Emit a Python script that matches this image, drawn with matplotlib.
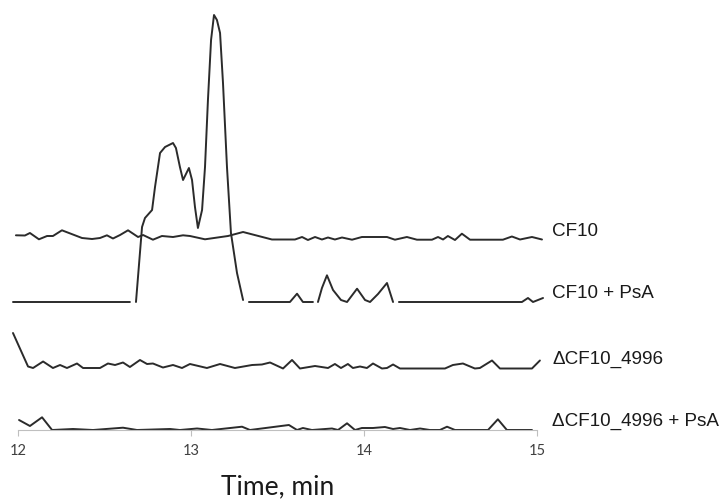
import numpy as np
import matplotlib
matplotlib.use("Agg")
import matplotlib.pyplot as plt

nan = np.nan

# traces: time (min) and signal height above each trace's baseline
cf10_t = [11.988, 12.040, 12.069, 12.121, 12.168, 12.202, 12.254, 12.370, 12.428, 12.474,
          12.514, 12.549, 12.590, 12.636, 12.694, 12.723, 12.780, 12.832, 12.896, 12.954,
          12.994, 13.081, 13.214, 13.301, 13.468, 13.601, 13.642, 13.676, 13.717, 13.757,
          13.792, 13.832, 13.873, 13.931, 13.988, 14.133, 14.179, 14.248, 14.306, 14.393,
          14.428, 14.457, 14.485, 14.526, 14.566, 14.613, 14.803, 14.855, 14.902, 14.971, 15.029]
cf10_y = [4.7, 4.5, 7, 0.7, 4, 4, 9.7, 2, 1, 2,
          4.7, 1.5, 5, 9.7, 3, 5, 0.3, 4, 3, 4.7,
          4, 0.7, 4, 8, 0.5, 0.5, 3, 0, 3, 0.5,
          2.5, 0.5, 2.5, 0.3, 3, 3, 0.3, 3, 0.3, 0.3,
          3, 0.5, 4, 0, 6.3, 0.3, 0.3, 3.5, 0.5, 3, 0.5]

psa_t = [11.971, 12.647, nan, 12.682, 12.717, 12.734, 12.775, 12.792, 12.821, 12.850,
         12.896, 12.913, 12.936, 12.954, 12.988, 13.006, 13.023, 13.040, 13.064, 13.081,
         13.098, 13.116, 13.133, 13.150, 13.168, 13.185, 13.208, 13.231, 13.266, 13.301,
         nan, 13.335, 13.572, 13.613, 13.647, 13.705, nan, 13.734, 13.757, 13.786,
         13.821, 13.867, 13.902, 13.960, 14.006, 14.035, 14.081, 14.133, 14.168, nan,
         14.202, 14.913, 14.948, 14.977, 15.035]
psa_y = [0, 0, nan, 0, 75, 84, 92, 115, 149, 155,
         159, 154, 135, 122, 134, 122, 95, 74, 92, 135,
         202, 262, 287, 282, 269, 219, 135, 69, 29, 2,
         nan, 0, 0, 8.3, 0, 0, nan, 0, 14, 26.7,
         12, 2, 0, 13.3, 2, 0, 8, 19, 0, nan,
         0, 0, 4, 0, 4]

mut_t = [11.971, 12.058, 12.087, 12.145, 12.202, 12.243, 12.283, 12.341, 12.376, 12.474,
         12.520, 12.561, 12.607, 12.647, 12.705, 12.746, 12.780, 12.838, 12.896, 12.948,
         12.994, 13.092, 13.168, 13.254, 13.353, 13.410, 13.457, 13.532, 13.584, 13.630,
         13.717, 13.792, 13.832, 13.867, 13.907, 13.936, 13.977, 14.017, 14.052, 14.104,
         14.133, 14.168, 14.208, 14.468, 14.514, 14.572, 14.641, 14.670, 14.740, 14.786,
         14.971, 15.017]
mut_y = [35.5, 2, 0.5, 7, 0.5, 3.5, 0.5, 5, 0.5, 0.5,
         5, 3.5, 6, 1.5, 8.5, 4.5, 5, 1, 3.5, 0.5,
         4.5, 0.5, 4.5, 0.5, 3.5, 4, 6, 0, 8.5, 0,
         2.5, 0.5, 4.5, 0.5, 4.5, 0.5, 2, 0.5, 5, 0,
         0.5, 4, 0, 0, 3.5, 5, 0, 0.5, 8, 0,
         0, 8]

mutpsa_t = [12.006, 12.069, 12.139, 12.197, 12.318, 12.434, 12.607, 12.688, 12.879, 12.936,
            13.035, 13.121, 13.295, 13.341, 13.566, 13.613, 13.647, 13.699, 13.815, 13.850,
            13.902, 13.948, 13.988, 14.052, 14.121, 14.168, 14.208, 14.266, 14.324, 14.381,
            14.439, 14.480, 14.526, 14.717, 14.774, 14.826, 14.971]
mutpsa_y = [10, 4, 12.7, 0, 1, 0, 2.3, 0, 1, 0,
            1.5, 0, 3.3, 0, 5, 0, 2, 0, 1.5, 0,
            6.7, 0, 2, 2, 3, 1, 2, 0, 1.5, 0,
            0, 3.3, 0, 0, 10.7, 0, 0]

labels = ["CF10", "CF10 + PsA", "\u0394CF10_4996", "\u0394CF10_4996 + PsA"]
xticks = [12, 13, 14, 15]

traces = [(cf10_t, cf10_y), (psa_t, psa_y), (mut_t, mut_y), (mutpsa_t, mutpsa_y)]
offsets = [190, 128, 61.5, 0]

fig = plt.figure(figsize=(7.2, 5), dpi=100)
ax = fig.add_axes([0.025, 0.14, 0.7208, 0.86])

for (t, y), off, lab in zip(traces, offsets, labels):
    ax.plot(t, np.array(y) + off, color="#2b2b2b", lw=1.4, clip_on=False,
            solid_joinstyle="round", solid_capstyle="round")
    ax.text(15.087, off + 9, lab, fontsize=13.6, family="Liberation Sans",
            color="#1a1a1a", va="center", ha="left", clip_on=False)

ax.set_xlim(12, 15)
ax.set_ylim(0, 430)
ax.set_xticks(xticks)
ax.set_xticklabels([str(v) for v in xticks], family="Lato", fontsize=10.5, color="#404040")
ax.set_yticks([])
for s in ["left", "top", "right"]:
    ax.spines[s].set_visible(False)
ax.spines["bottom"].set_color("#bfbfbf")
ax.tick_params(axis="x", length=4, color="#bfbfbf", pad=6)
ax.set_xlabel("Time, min", family="Lato", fontsize=19, color="#1a1a1a", labelpad=12)

fig.savefig("out.png", dpi=100)
